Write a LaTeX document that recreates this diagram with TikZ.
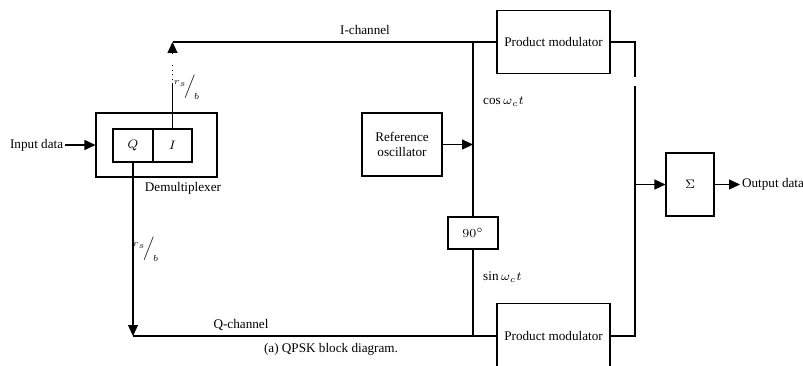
\documentclass[tikz,border=0pt]{standalone}
\usepackage{amsmath,amssymb}
\usepackage{fontspec}
\setmainfont{Liberation Serif}
\usetikzlibrary{calc,arrows.meta}
\tikzset{
    blk/.style={draw, line width=0.6pt, inner sep=0pt, align=center},
    wire/.style={line width=0.6pt},
    tip/.style={-{Triangle[length=0.22cm,width=0.2cm]}, line width=0.6pt}
}

\begin{document}
\begin{tikzpicture}[x=0.02cm, y=-0.02cm, font=\fontsize{7.5}{9}\selectfont]
    \useasboundingbox (0,0) rectangle (803,365);
    \node (demux) at (156.5,145) [blk, minimum width=2.42cm, minimum height=1.28cm] {};
    \node (qbox) at (133,145.5) [blk, minimum width=0.8cm, minimum height=0.66cm] {$Q$};
    \node (ibox) at (172.5,145.5) [blk, minimum width=0.78cm, minimum height=0.66cm] {$I$};
    \node (refosc) at (402,144.5) [blk, minimum width=1.6cm, minimum height=1.26cm] {Reference\\oscillator};
    \node (ninety) at (473,233) [blk, minimum width=1.0cm, minimum height=0.64cm] {$90^\circ$};
    \node (pmtop) at (553.5,42) [blk, minimum width=2.26cm, minimum height=1.26cm] {Product modulator};
    \node (pmbot) at (553.5,336) [blk, minimum width=2.26cm, minimum height=1.3cm] {Product modulator};
    \node (sum) at (690,184.5) [blk, minimum width=0.96cm, minimum height=1.26cm] {$\Sigma$};
    \node (inp) at (8,145) [anchor=west, inner sep=1pt] {Input data};
    \node (outp) at (740,184.5) [anchor=west, inner sep=1pt] {Output data};

    \coordinate (itop) at (ibox.north |- pmtop.west);
    \coordinate (qbot) at (qbox.south |- pmbot.west);
    \coordinate (osctop) at (ninety.north |- pmtop.west);
    \coordinate (oscin) at (ninety.north |- refosc.east);
    \coordinate (oscbot) at (ninety.south |- pmbot.west);
    \coordinate (sumtop) at (635,42);
    \coordinate (sumbot) at (635,336);
    \coordinate (sumin) at (sumtop |- sum.west);

    \draw[tip] (inp) -- (demux.west);
    \draw[wire] (ibox.north) -- ($(ibox.north)+(0,-44)$);
    \draw[wire, dotted] ($(ibox.north)+(0,-44)$) -- ($(ibox.north)+(0,-66)$);
    \draw[tip] ($(itop)+(0,11)$) -- (itop);
    \draw[wire] (itop) -- (pmtop.west);
    \draw[tip] (qbox.south) -- (qbot);
    \draw[wire] (qbot) -- (pmbot.west);
    \draw[wire] (osctop) -- (ninety.north);
    \draw[wire] (ninety.south) -- (oscbot);
    \draw[tip] (refosc.east) -- (oscin);
    \draw[wire] (pmtop.east) -- (sumtop) -- ($(sumtop)+(0,35)$);
    \draw[line width=1.2pt] ($(sumtop)+(0,44)$) -- ($(sumtop)+(0,101)$);
    \draw[wire] ($(sumtop)+(0,101)$) -- (sumbot) -- (pmbot.east);
    \draw[tip] (sumin) -- (sum.west);
    \draw[tip] (sum.east) -- (outp.west);

    \node at (365,30) {I-channel};
    \node at (241,325) {Q-channel};
    \node at (183,188) {Demultiplexer};
    \node at (477,102) [anchor=west] {$\cos\omega_c t$};
    \node at (477,277) [anchor=west] {$\sin\omega_c t$};
    \node at (187,87) {$^{r_s}\!\Big/_{\!b}$};
    \node at (146,249) {$^{r_s}\!\Big/_{\!b}$};
    \node at (331,349) {(a) QPSK block diagram.};
\end{tikzpicture}
\end{document}
